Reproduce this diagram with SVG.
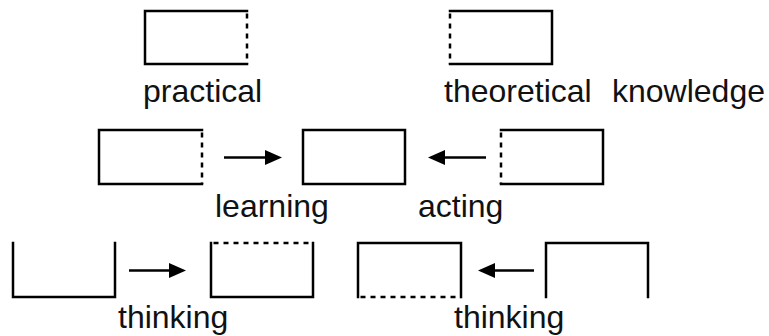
<svg xmlns="http://www.w3.org/2000/svg" width="769" height="336" viewBox="0 0 769 336">
  <style>
    .edge { fill: none; stroke: #000; stroke-width: 2.5; stroke-linecap: square; }
    .dash { fill: none; stroke: #000; stroke-width: 2.5; stroke-dasharray: 5 5; }
    .conn { fill: none; stroke: #000; stroke-width: 2.5; }
    .label { font-family: "Liberation Sans", Arial, Helvetica, sans-serif; font-size: 32px; fill: #111; }
  </style>
  <defs>
    <marker id="head" markerUnits="userSpaceOnUse" markerWidth="18" markerHeight="16" refX="0" refY="7.5" orient="auto" overflow="visible">
      <path d="M0,0 L17,7.5 L0,15 Z" fill="#000"/>
    </marker>
  </defs>

  <!-- Row 1 -->
  <g id="practical">
    <path class="edge" d="M247,11 H145 V64 H247"/>
    <line class="dash" x1="247" y1="11" x2="247" y2="64" stroke-dashoffset="-2.5"/>
    <text class="label" x="143" y="102">practical</text>
  </g>
  <g id="theoretical">
    <path class="edge" d="M450,11 H552 V64 H450"/>
    <line class="dash" x1="450" y1="11" x2="450" y2="64" stroke-dashoffset="-2.5"/>
    <text class="label" x="444" y="102">theoretical</text>
  </g>
  <g id="knowledge">
    <text class="label" x="612" y="102">knowledge</text>
  </g>

  <!-- Row 2 -->
  <g id="learning-source">
    <path class="edge" d="M202,130 H99 V184 H202"/>
    <line class="dash" x1="202" y1="130" x2="202" y2="184" stroke-dashoffset="-2.5"/>
  </g>
  <g id="learning-target">
    <rect class="edge" x="303" y="130" width="102" height="54"/>
  </g>
  <g id="acting-source">
    <path class="edge" d="M501,130 H603 V184 H501"/>
    <line class="dash" x1="501" y1="130" x2="501" y2="184" stroke-dashoffset="-2.5"/>
  </g>
  <g id="learning-label">
    <text class="label" x="215" y="217">learning</text>
  </g>
  <g id="acting-label">
    <text class="label" x="418" y="217">acting</text>
  </g>

  <!-- Row 3 -->
  <g id="thinking-open-top">
    <path class="edge" d="M13,243 V297 H115 V243"/>
  </g>
  <g id="thinking-dashed-top">
    <path class="edge" d="M211,243 V297 H313 V243"/>
    <line class="dash" x1="211" y1="243" x2="313" y2="243" stroke-dashoffset="-2.5"/>
  </g>
  <g id="thinking-dashed-bottom">
    <path class="edge" d="M358,297 V243 H461 V297"/>
    <line class="dash" x1="358" y1="297" x2="461" y2="297" stroke-dashoffset="-2.5"/>
  </g>
  <g id="thinking-open-bottom">
    <path class="edge" d="M546,297 V243 H648 V297"/>
  </g>
  <g id="thinking-left-label">
    <text class="label" x="118" y="328">thinking</text>
  </g>
  <g id="thinking-right-label">
    <text class="label" x="454" y="328">thinking</text>
  </g>

  <!-- Connectors -->
  <g id="connectors">
    <line class="conn" x1="224" y1="157.5" x2="265" y2="157.5" marker-end="url(#head)"/>
    <line class="conn" x1="486" y1="157.5" x2="445" y2="157.5" marker-end="url(#head)"/>
    <line class="conn" x1="129" y1="270.5" x2="169" y2="270.5" marker-end="url(#head)"/>
    <line class="conn" x1="534" y1="270.5" x2="495" y2="270.5" marker-end="url(#head)"/>
  </g>
</svg>
